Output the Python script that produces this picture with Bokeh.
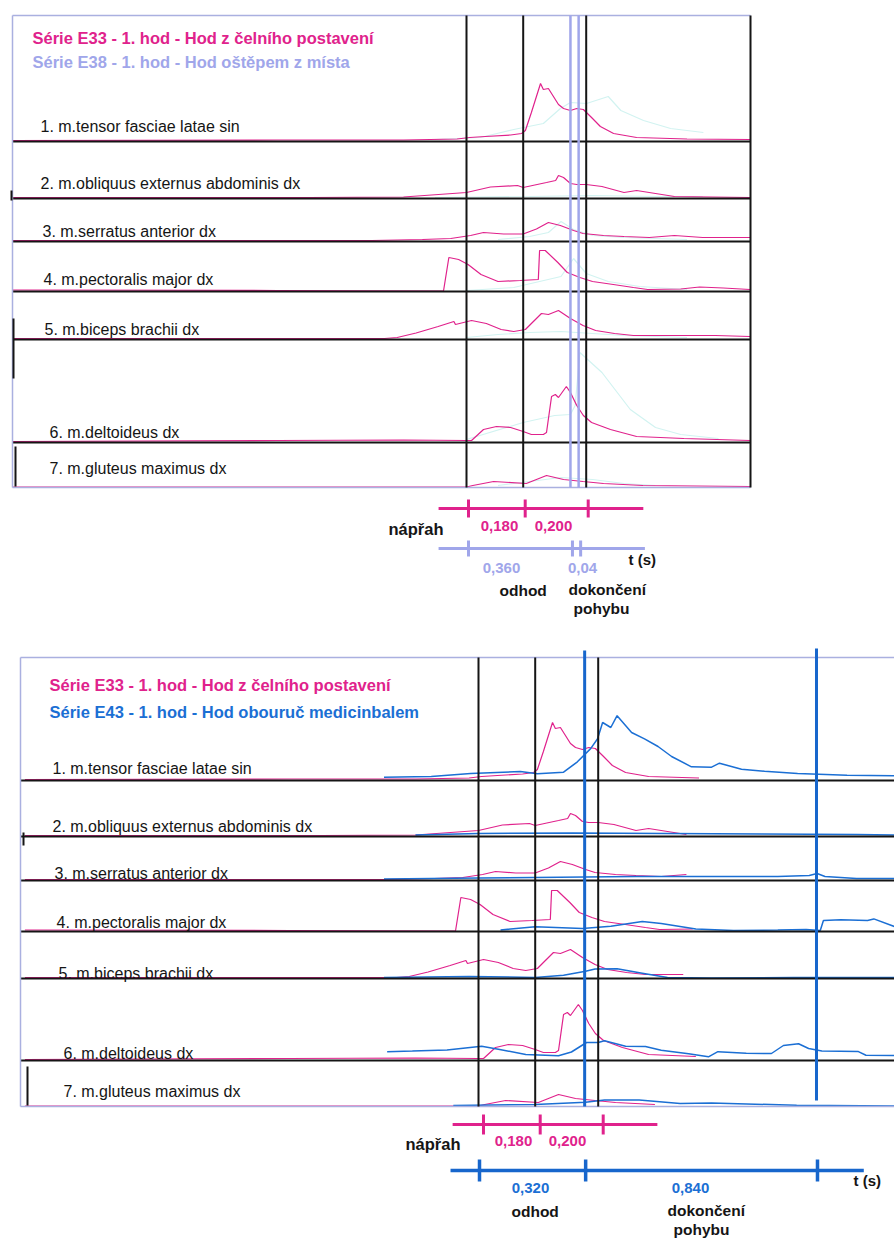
from bokeh.plotting import figure
from bokeh.models import Range1d
from bokeh.embed import file_html
from bokeh.resources import INLINE
from bokeh.core.properties import value

# ------------------------------------------------------------------ data
muscles = [
    "1. m.tensor fasciae latae sin",
    "2. m.obliquus externus abdominis dx",
    "3. m.serratus anterior dx",
    "4. m.pectoralis major dx",
    "5. m.biceps brachii dx",
    "6. m.deltoideus dx",
    "7. m.gluteus maximus dx",
]
title_e33 = "Série E33 - 1. hod - Hod z čelního postavení"
title_e38 = "Série E38 - 1. hod - Hod oštěpem z místa"
title_e43 = "Série E43 - 1. hod - Hod obouruč medicinbalem"

# EMG envelopes: time (s, 0 = start of napřah) and amplitude (relative units)
e33_time = [
    [-1.44, -0.6, -0.2, -0.03, 0.01, 0.06, 0.14, 0.175, 0.187, 0.206, 0.235, 0.244, 0.26, 0.292, 0.308, 0.33, 0.35, 0.371, 0.397, 0.425, 0.467, 0.54, 0.70, 0.90],
    [-1.44, -0.5, -0.2, 0.0, 0.076, 0.162, 0.18, 0.254, 0.283, 0.292, 0.308, 0.33, 0.35, 0.38, 0.43, 0.50, 0.54, 0.60, 0.66, 0.90],
    [-1.44, -0.3, -0.14, -0.05, 0.013, 0.054, 0.118, 0.18, 0.222, 0.26, 0.298, 0.34, 0.37, 0.435, 0.5, 0.58, 0.66, 0.75, 0.9],
    [-1.44, -0.6, -0.073, -0.056, -0.025, 0.005, 0.046, 0.1, 0.17, 0.228, 0.232, 0.25, 0.29, 0.32, 0.36, 0.4, 0.466, 0.53, 0.575, 0.68, 0.74, 0.815, 0.9],
    [-1.44, -0.6, -0.4, -0.26, -0.22, -0.16, -0.09, -0.04, -0.035, 0.016, 0.063, 0.11, 0.15, 0.187, 0.222, 0.238, 0.26, 0.292, 0.33, 0.37, 0.41, 0.47, 0.53, 0.65, 0.79, 0.9],
    [-1.44, -0.6, -0.2, 0.0, 0.016, 0.054, 0.095, 0.14, 0.18, 0.206, 0.244, 0.254, 0.27, 0.282, 0.292, 0.317, 0.33, 0.35, 0.371, 0.397, 0.457, 0.54, 0.69, 0.9],
    [-1.44, 0.0, 0.02, 0.086, 0.19, 0.254, 0.308, 0.37, 0.435, 0.56, 0.9],
]
e33_amp = [
    [1, 1.5, 1.5, 2.5, 4, 5, 6.5, 8, 11, 29, 58, 52, 53, 37, 33, 31, 33, 32, 24, 15, 8, 4, 2.5, 2],
    [1, 1, 1.5, 6, 11.5, 13, 11, 16, 18, 23, 21, 15, 14, 14, 12, 6, 8, 5, 2, 1],
    [1, 1, 2, 3, 6, 9, 7.5, 7.5, 12.5, 19, 16, 11, 8, 6, 5, 4, 6, 4, 4],
    [1.5, 1, 0.5, 34, 32, 27, 17, 10, 11, 12, 41, 41, 29, 19, 14, 10, 7, 4, 2, 2.5, 4.5, 3.5, 2],
    [1, 1, 1, 1, 2, 6.5, 13, 18, 15, 19, 16, 10, 8, 10, 21, 26, 25, 29, 21, 14, 9, 6, 4, 4, 4, 3],
    [1, 2, 2.5, 2, 2, 13, 16, 15, 11, 8, 8, 10, 46, 48, 45, 56, 50, 37, 27, 20, 13, 6, 4, 2],
    [0.5, 0.5, 2, 6, 4, 12, 8, 6, 4, 2, 1],
]
e33_end_lower = 0.70  # recording length shown in the lower chart

e38_time = [
    [-0.1, 0.044, 0.15, 0.244, 0.298, 0.33, 0.381, 0.45, 0.49, 0.562, 0.648, 0.752],
    [-0.1, 0.2, 0.4, 0.6, 0.75],
    [0.1, 0.2, 0.26, 0.3, 0.34, 0.4, 0.5, 0.7],
    [0.0, 0.15, 0.3, 0.34, 0.38, 0.45, 0.55, 0.7],
    [0.0, 0.1, 0.2, 0.3, 0.4, 0.5, 0.7],
    [0.0, 0.18, 0.28, 0.33, 0.345, 0.36, 0.43, 0.52, 0.60, 0.68, 0.8],
    [0.1, 0.2, 0.3, 0.4, 0.5, 0.6],
]
e38_amp = [
    [2, 4, 12, 18, 33, 39, 38, 45, 31, 21, 13, 9],
    [1, 2, 3, 2, 2],
    [2, 5, 9, 20, 12, 6, 4, 2],
    [1, 4, 15, 33, 18, 10, 5, 2],
    [2, 5, 7, 8, 6, 4, 2],
    [3, 20, 27, 28, 37, 90, 70, 33, 15, 8, 4],
    [2, 6, 10, 8, 4, 2],
]

e43_time = [
    [-0.3, -0.15, -0.025, 0.133, 0.187, 0.27, 0.314, 0.356, 0.378, 0.394, 0.42, 0.44, 0.486, 0.527, 0.57, 0.613, 0.676, 0.74, 0.765, 0.835, 0.908, 1.013, 1.17, 1.35],
    [-0.2, 0.0, 0.3, 0.6, 0.9, 1.2, 1.35],
    [-0.3, 0.0, 0.5, 0.95, 1.05, 1.075, 1.1, 1.2, 1.35],
    [0.07, 0.18, 0.33, 0.42, 0.52, 0.58, 0.69, 0.81, 0.95, 1.04, 1.085, 1.095, 1.15, 1.235, 1.255, 1.32, 1.35],
    [-0.3, -0.03, 0.18, 0.27, 0.34, 0.37, 0.44, 0.52, 0.6, 0.74, 1.0, 1.35],
    [-0.29, -0.21, -0.1, 0.01, 0.063, 0.15, 0.254, 0.295, 0.343, 0.38, 0.4, 0.467, 0.53, 0.58, 0.667, 0.73, 0.76, 0.85, 0.93, 0.968, 1.016, 1.048, 1.09, 1.206, 1.23, 1.35],
    [-0.08, 0.18, 0.34, 0.4, 0.51, 0.64, 0.74, 1.01, 1.35],
]
e43_amp = [
    [3.3, 4, 7, 8.9, 6.7, 8.3, 18.7, 31.9, 41.8, 58, 53, 64.8, 48, 41.7, 34, 24, 13.7, 13.3, 17.3, 11.3, 9.3, 7, 5.3, 4.7],
    [1.5, 3, 3.5, 3, 2.5, 2, 1.5],
    [1.5, 2.5, 4, 4, 5, 7, 4, 2, 2],
    [1.5, 4.7, 3, 5.3, 10, 8, 2.6, 1, 1.5, 2, 1, 11, 11.7, 11, 12.6, 5, 5],
    [1, 2, 1, 3.2, 7.2, 9.4, 9.7, 5.3, 1, 0.5, 1, 1],
    [8.8, 9.5, 10.6, 14.3, 11.3, 6, 4.7, 8.5, 18, 18, 19.7, 14.3, 14, 10.3, 6.7, 3.7, 8.8, 7.3, 7, 15, 16.7, 12, 9.5, 8.9, 5.3, 5],
    [1, 2, 4.3, 6.6, 6.6, 3, 3.5, 1.2, 0.5],
]

# phase markers (s)
e33_events = [0.0, 0.18, 0.38]
e38_events = [0.33, 0.356]
e43_events = [0.337, 1.073]
e33_ticks = [0.0, 0.18, 0.38]
e38_ticks = [0.0, 0.33, 0.356]
e43_ticks = [0.0, 0.337, 1.073]
e33_phase_labels = ["0,180", "0,200"]
e38_phase_labels = ["0,360", "0,04"]
e43_phase_labels = ["0,320", "0,840"]

# ------------------------------------------------------------------ style / layout
MAGENTA = "#e0228c"
LAVENDER = "#a0a6ea"
CYAN = "#d2f3f1"
BLUE = "#1b6fd4"
BLUE_LINE = "#1766cc"
BORDER = "#aab0e0"
BLACK = "#151515"
FONT = value("Liberation Sans")

W, H = 894, 1240
X0, Y0 = 0, 0
S = 315.0  # px per second
T0_TOP, T0_BOT = 466, 478
TOP_L, TOP_R, TOP_T = 12, 750, 15
TOP_BASE = [141, 198, 241, 291, 339, 442, 487]
BOT_L, BOT_R, BOT_T = 20, 894, 657
BOT_BASE = [780, 836, 880, 931, 978, 1060, 1106]

p = figure(width=W, height=H, x_range=Range1d(X0, X0 + W), y_range=Range1d(Y0 + H, Y0),
           output_backend="svg", toolbar_location=None, min_border=0,
           x_axis_location=None, y_axis_location=None)
p.grid.visible = False
p.outline_line_color = None
p.background_fill_color = "white"
p.border_fill_color = "white"


def trange(t0):
    return Range1d((X0 - t0) / S, (X0 + W - t0) / S)


p.extra_x_ranges = {"t_top": trange(T0_TOP), "t_bot": trange(T0_BOT),
                    "tl_top": trange(468), "tl_bot_m": trange(483), "tl_bot_b": trange(479)}
yr = {}
for i, b in enumerate(TOP_BASE):
    yr[f"top{i}"] = Range1d(b - (Y0 + H), b - Y0)
for i, b in enumerate(BOT_BASE):
    yr[f"bot{i}"] = Range1d(b - (Y0 + H), b - Y0)
p.extra_y_ranges = yr

# ---------------- traces
for i in range(7):
    p.line(e38_time[i], e38_amp[i], x_range_name="t_top", y_range_name=f"top{i}",
           line_color=CYAN, line_width=1.2)
    p.line(e33_time[i], e33_amp[i], x_range_name="t_top", y_range_name=f"top{i}",
           line_color=MAGENTA, line_width=1.2)
    tt = [t for t in e33_time[i] if t <= e33_end_lower]
    aa = [a for t, a in zip(e33_time[i], e33_amp[i]) if t <= e33_end_lower]
    p.line(tt, aa, x_range_name="t_bot", y_range_name=f"bot{i}",
           line_color=MAGENTA, line_width=1.2)
    p.line(e43_time[i], e43_amp[i], x_range_name="t_bot", y_range_name=f"bot{i}",
           line_color=BLUE, line_width=1.5)

# ---------------- frames
# top chart
p.segment(x0=[TOP_L] * 6, x1=[TOP_R] * 6, y0=TOP_BASE[:6], y1=TOP_BASE[:6],
          line_color=BLACK, line_width=2)
p.segment(x0=[TOP_L, TOP_L, TOP_L], x1=[TOP_R, TOP_R, TOP_L],
          y0=[TOP_T, TOP_BASE[6], TOP_T], y1=[TOP_T, TOP_BASE[6], TOP_BASE[6]],
          line_color=BORDER, line_width=1.5)
p.segment(x0=[TOP_R, 13, 15, 11], x1=[TOP_R, 13, 15, 11],
          y0=[TOP_T, 318, 446, 190], y1=[TOP_BASE[6], 378, 486, 200],
          line_color=BLACK, line_width=2)
# bottom chart
p.segment(x0=[BOT_L] * 6, x1=[BOT_R] * 6, y0=BOT_BASE[:6], y1=BOT_BASE[:6],
          line_color=BLACK, line_width=2)
p.segment(x0=[BOT_L, BOT_L, BOT_L], x1=[BOT_R, BOT_R, BOT_L],
          y0=[BOT_T, BOT_BASE[6], BOT_T], y1=[BOT_T, BOT_BASE[6], BOT_BASE[6]],
          line_color=BORDER, line_width=1.5)
p.segment(x0=[27, 23], x1=[27, 23], y0=[1066, 832], y1=[1105, 845],
          line_color=BLACK, line_width=2)

# ---------------- phase lines
p.segment(x0=e33_events, x1=e33_events, y0=[TOP_T] * 3, y1=[TOP_BASE[6]] * 3,
          x_range_name="t_top", line_color=BLACK, line_width=2)
p.segment(x0=e38_events, x1=e38_events, y0=[TOP_T] * 2, y1=[TOP_BASE[6]] * 2,
          x_range_name="t_top", line_color=LAVENDER, line_width=2.5)
p.segment(x0=e33_events, x1=e33_events, y0=[BOT_T] * 3, y1=[BOT_BASE[6]] * 3,
          x_range_name="t_bot", line_color=BLACK, line_width=2)
p.segment(x0=e43_events, x1=e43_events, y0=[650, 648], y1=[BOT_BASE[6], 1100],
          x_range_name="t_bot", line_color=BLUE_LINE, line_width=3)

# ---------------- time lines under the charts
def timeline(rng, ticks, t_start, t_end, y, tick_half, color, width):
    p.segment(x0=[t_start], x1=[t_end], y0=[y], y1=[y], x_range_name=rng,
              line_color=color, line_width=width)
    p.segment(x0=ticks, x1=ticks, y0=[y - tick_half] * len(ticks), y1=[y + tick_half] * len(ticks),
              x_range_name=rng, line_color=color, line_width=width)


timeline("tl_top", e33_ticks, -0.095, 0.555, 508, 9, MAGENTA, 3)
timeline("tl_top", e38_ticks, -0.095, 0.56, 548, 8, LAVENDER, 3)
timeline("tl_bot_m", e33_ticks, -0.098, 0.552, 1124, 10, MAGENTA, 3)
timeline("tl_bot_b", e43_ticks, -0.092, 1.22, 1170, 11, BLUE_LINE, 3.5)


def txt(x, y, s, color, size, bold=False, align="left"):
    p.text(x=x, y=y, text=s, text_color=color, text_font=FONT, text_font_size=size,
           text_font_style="bold" if bold else "normal", text_align=align, text_baseline="middle")


# titles
txt([32], [37], [title_e33], MAGENTA, "16.5px", True)
txt([32], [61], [title_e38], LAVENDER, "16.5px", True)
txt([49], [684], [title_e33], MAGENTA, "16.5px", True)
txt([49], [711], [title_e43], BLUE, "16.5px", True)

# muscle labels
txt([40, 40, 42, 43, 44, 49, 49], [126, 183, 231, 279, 329, 432, 468], muscles, BLACK, "16px")
txt([52, 52, 54, 56, 58, 63, 63], [768, 826, 873, 922, 973, 1053, 1091], muscles, BLACK, "16px")

# timeline labels (top)
txt([388], [528], ["nápřah"], BLACK, "16.5px", True)
txt([499, 553], [525, 525], e33_phase_labels, MAGENTA, "15px", True, "center")
txt([501, 582], [567, 567], e38_phase_labels, LAVENDER, "15px", True, "center")
txt([628], [559], ["t (s)"], BLACK, "15px", True)
txt([499, 568, 573], [590, 589, 608], ["odhod", "dokončení", "pohybu"], BLACK, "15.5px", True)

# timeline labels (bottom)
txt([405], [1143], ["nápřah"], BLACK, "16.5px", True)
txt([513, 567], [1140, 1140], e33_phase_labels, MAGENTA, "15px", True, "center")
txt([530, 690], [1187, 1187], e43_phase_labels, BLUE, "15px", True, "center")
txt([853], [1180], ["t (s)"], BLACK, "15px", True)
txt([511, 667, 673], [1211, 1210, 1229], ["odhod", "dokončení", "pohybu"], BLACK, "15.5px", True)

open("out.html", "w").write(file_html(p, INLINE))
